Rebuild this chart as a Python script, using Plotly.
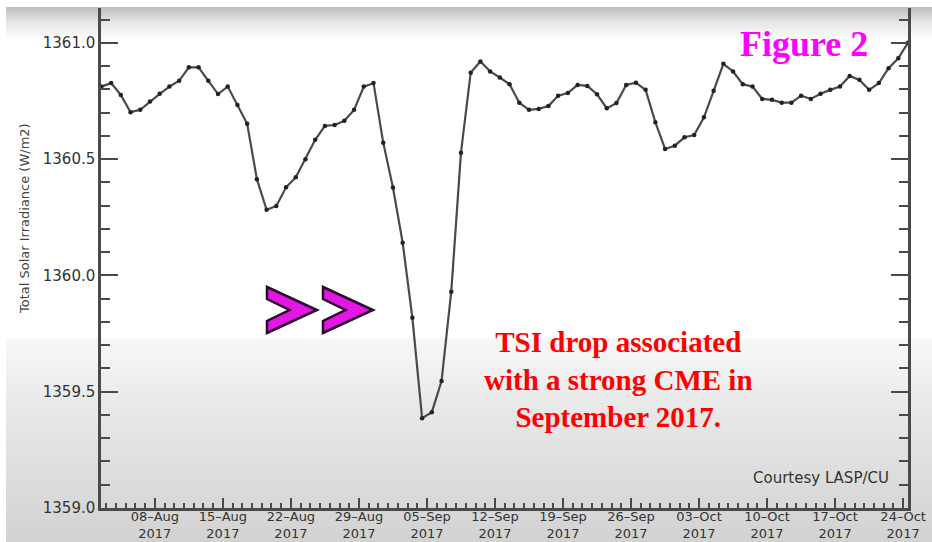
import base64
import pandas as pd
import plotly.graph_objects as go

# ---------------- data ----------------
start_day = "2017-08-02 12:00"
tsi_values = [
    1360.812, 1360.827, 1360.776, 1360.702, 1360.712, 1360.748, 1360.781, 1360.812,
    1360.837, 1360.895, 1360.895, 1360.837, 1360.780, 1360.812, 1360.733, 1360.652,
    1360.414, 1360.282, 1360.299, 1360.379, 1360.422, 1360.500, 1360.583, 1360.643,
    1360.647, 1360.665, 1360.712, 1360.812, 1360.827, 1360.571, 1360.378, 1360.141,
    1359.818, 1359.386, 1359.412, 1359.546, 1359.930, 1360.528, 1360.872, 1360.920,
    1360.877, 1360.851, 1360.822, 1360.743, 1360.712, 1360.716, 1360.729, 1360.773,
    1360.784, 1360.819, 1360.815, 1360.779, 1360.719, 1360.741, 1360.819, 1360.829,
    1360.798, 1360.659, 1360.544, 1360.558, 1360.594, 1360.604, 1360.680, 1360.794,
    1360.910, 1360.877, 1360.822, 1360.812, 1360.759, 1360.755, 1360.743, 1360.743,
    1360.773, 1360.759, 1360.781, 1360.798, 1360.812, 1360.858, 1360.841, 1360.798,
    1360.827, 1360.891, 1360.934, 1361.001,
]
dates = pd.date_range(start_day, periods=len(tsi_values), freq="D")

x_tick_dates = ["2017-08-08", "2017-08-15", "2017-08-22", "2017-08-29", "2017-09-05",
                "2017-09-12", "2017-09-19", "2017-09-26", "2017-10-03", "2017-10-10",
                "2017-10-17", "2017-10-24"]
x_tick_labels = ["08–Aug<br>2017", "15–Aug<br>2017", "22–Aug<br>2017", "29–Aug<br>2017",
                 "05–Sep<br>2017", "12–Sep<br>2017", "19–Sep<br>2017", "26–Sep<br>2017",
                 "03–Oct<br>2017", "10–Oct<br>2017", "17–Oct<br>2017", "24–Oct<br>2017"]
y_title = "Total Solar Irradiance (W/m2)"

# ---------------- geometry helpers ----------------
W, H = 932, 542
L, R, T, B = 101, 24, 8, 34
PW, PH = W - L - R, H - T - B


def px(xp):
    return (xp - L) / PW


def py(yp):
    return (H - B - yp) / PH


# background gradient image (screen-capture look)
svg = f"""<svg xmlns='http://www.w3.org/2000/svg' width='{W}' height='{H}' preserveAspectRatio='none'>
<defs>
<linearGradient id='t' x1='0' y1='0' x2='0' y2='1'>
<stop offset='0' stop-color='#bdbdbd'/><stop offset='0.45' stop-color='#e6e6e6'/><stop offset='1' stop-color='#ffffff'/></linearGradient>
<linearGradient id='b' x1='0' y1='0' x2='0' y2='1'>
<stop offset='0' stop-color='#f8f8f8'/><stop offset='0.3' stop-color='#eaeaea'/><stop offset='1' stop-color='#d2d2d2'/></linearGradient>
</defs>
<rect x='0' y='0' width='{W}' height='{H}' fill='#ffffff'/>
<rect x='6' y='7' width='{W}' height='34' fill='url(#t)'/>
<rect x='6' y='338' width='{W}' height='{H-338}' fill='url(#b)'/>
</svg>"""
bg_src = "data:image/svg+xml;base64," + base64.b64encode(svg.encode()).decode()

fig = go.Figure()
fig.add_trace(go.Scatter(
    x=dates, y=tsi_values, mode="lines+markers",
    line=dict(color="#4a4a4a", width=2.2),
    marker=dict(color="#222222", size=4.5),
    cliponaxis=False, showlegend=False, hoverinfo="skip",
))

axis_col = "#4a4a4a"
fig.update_xaxes(
    range=["2017-08-02 11:00", "2017-10-24 12:00"], automargin=False,
    tickmode="array", tickvals=x_tick_dates, ticktext=x_tick_labels,
    ticks="inside", ticklen=10, tickwidth=2, tickcolor=axis_col,
    minor=dict(tick0="2017-08-02", dtick=86400000, ticks="inside", ticklen=5,
               tickwidth=1.5, tickcolor=axis_col, showgrid=False),
    showline=True, linecolor=axis_col, linewidth=2.5, mirror=False,
    showgrid=False, zeroline=False, ticklabelstandoff=-5,
    tickfont=dict(family="DejaVu Sans", size=13, color="#333333"),
)
fig.update_yaxes(
    range=[1359.0, 1361.15], automargin=False,
    tick0=1359.0, dtick=0.5, tickformat=".1f",
    ticks="inside", ticklen=17, tickwidth=2, tickcolor=axis_col,
    minor=dict(dtick=0.1, ticks="inside", ticklen=9, tickwidth=2,
               tickcolor=axis_col, showgrid=False),
    showline=True, linecolor=axis_col, linewidth=2.5, mirror="ticks",
    showgrid=False, zeroline=False,
    tickfont=dict(family="DejaVu Sans", size=15, color="#333333"),
)

annotations = [
    dict(text=y_title, x=px(24), y=py(219), textangle=-90,
         font=dict(family="DejaVu Sans", size=13, color="#444444")),
    dict(text="<b>Figure 2</b>", x=px(804), y=py(44),
         font=dict(family="Liberation Serif", size=36, color="#ff00ff")),
    dict(text="<b>TSI drop associated<br>with a strong CME in<br>September 2017.</b>",
         x=px(618.5), y=py(379), align="center",
         font=dict(family="Liberation Serif", size=29, color="#ff0000")),
    dict(text="Courtesy LASP/CU", x=px(821), y=py(478),
         font=dict(family="DejaVu Sans", size=15, color="#333333")),
]
for a in annotations:
    a.update(xref="paper", yref="paper", showarrow=False, xanchor="center", yanchor="middle")


def chevron(x0, x1, yt, yb, th):
    ym = (yt + yb) / 2
    pts = [(x0, yt), (x1, ym), (x0, yb), (x0, yb - th), (x1 - th * 2.3, ym), (x0, yt + th)]
    d = "M " + " L ".join(f"{px(a):.5f},{py(b):.5f}" for a, b in pts) + " Z"
    return dict(type="path", path=d, xref="paper", yref="paper", layer="above",
                fillcolor="#e316e3", line=dict(color="#2a0a2a", width=2.5))


shapes = [chevron(267, 317, 287, 333, 12), chevron(323, 373, 287, 333, 12)]

fig.update_layout(
    width=W, height=H,
    margin=dict(l=L, r=R, t=T, b=B, autoexpand=False),
    paper_bgcolor="#ffffff", plot_bgcolor="rgba(0,0,0,0)",
    annotations=annotations, shapes=shapes,
    images=[dict(source=bg_src, xref="paper", yref="paper", x=px(0), y=py(0),
                 sizex=W / PW, sizey=H / PH, sizing="stretch", layer="below",
                 xanchor="left", yanchor="top")],
)

fig.write_html("out.html")
